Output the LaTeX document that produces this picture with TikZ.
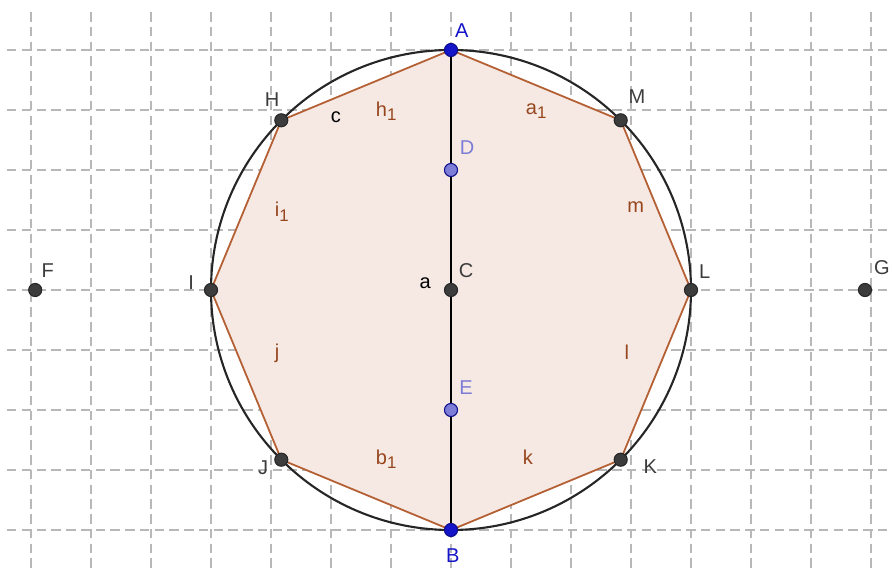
\documentclass[tikz,border=0pt]{standalone}
\usepackage{fontspec}
\setmainfont{Liberation Sans}
\definecolor{octfill}{RGB}{246,233,227}
\definecolor{octedge}{RGB}{180,96,52}
\definecolor{seglabel}{RGB}{150,70,30}
\definecolor{ptblue}{RGB}{20,20,200}
\definecolor{ptlight}{RGB}{125,125,215}
\definecolor{ptdark}{RGB}{60,60,60}
\newcommand{\sub}[1]{\raisebox{-0.45ex}{\fontsize{8}{9}\selectfont #1}}
\begin{document}
\begin{tikzpicture}[
  gridline/.style={black!28, dash pattern=on 4.5pt off 2.5pt, line width=0.5pt},
  octside/.style={draw=octedge, line width=0.85pt},
  dot/.style={circle, inner sep=0pt, minimum size=6.2pt, draw=black!85, fill=ptdark, line width=0.5pt},
  bluedot/.style={dot, draw=ptblue!70!black, fill=ptblue},
  lightdot/.style={dot, draw=ptblue!70!black, fill=ptlight},
  lbl/.style={font=\fontsize{9.5}{11}\selectfont, inner sep=0pt},
  ptlbl/.style={lbl, text=ptdark},
  seglbl/.style={lbl, text=seglabel}
]
\useasboundingbox (-7.5167,-4.6833) rectangle (7.3667,4.8333);
\foreach \x in {-7,...,7}
  \draw[gridline] (\x,4.63) -- (\x,-4.6833);
\foreach \y in {-4,...,4}
  \draw[gridline] (-7.4,\y) -- (7.3667,\y);

\coordinate (C) at (0,0);
\coordinate (A) at (90:4);
\coordinate (M) at (45:4);
\coordinate (L) at (0:4);
\coordinate (K) at (-45:4);
\coordinate (B) at (-90:4);
\coordinate (J) at (-135:4);
\coordinate (I) at (180:4);
\coordinate (H) at (135:4);
\coordinate (D) at (0,2);
\coordinate (E) at (0,-2);
\coordinate (F) at (-6.93,0);
\coordinate (G) at (6.9,0);

\fill[octfill] (A) -- (M) -- (L) -- (K) -- (B) -- (J) -- (I) -- (H) -- cycle;
\draw[octside] (A) -- (M) -- (L) -- (K) -- (B) -- (J) -- (I) -- (H) -- cycle;
\draw[black!85, line width=1pt] (C) circle (4);
\draw[black, line width=0.85pt] (A) -- (B);

\foreach \p in {C,F,G,H,I,J,K,L,M}
  \node[dot] (d\p) at (\p) {};
\node[bluedot] (dA) at (A) {};
\node[bluedot] (dB) at (B) {};
\node[lightdot] (dD) at (D) {};
\node[lightdot] (dE) at (E) {};

\node[lbl, text=ptblue] (lA) at (0.18,4.33) {A};
\node[lbl, text=ptblue] (lB) at (0.03,-4.42) {B};
\node[ptlbl] (lC) at (0.25,0.33) {C};
\node[lbl, text=ptlight] (lD) at (0.27,2.37) {D};
\node[lbl, text=ptlight] (lE) at (0.25,-1.63) {E};
\node[ptlbl] (lF) at (-6.72,0.33) {F};
\node[ptlbl] (lG) at (7.18,0.37) {G};
\node[ptlbl] (lH) at (-2.98,3.17) {H};
\node[ptlbl] (lI) at (-4.33,0.13) {I};
\node[ptlbl] (lJ) at (-3.13,-2.97) {J};
\node[ptlbl] (lK) at (3.32,-2.95) {K};
\node[ptlbl] (lL) at (4.23,0.3) {L};
\node[ptlbl] (lM) at (3.1,3.22) {M};

\node[lbl] (la) at (-0.43,0.12) {a};
\node[lbl] (lc) at (-1.92,2.88) {c};
\node[seglbl] (lh1) at (-1.08,2.98) {h\sub{1}};
\node[seglbl] (la1) at (1.42,2.98) {a\sub{1}};
\node[seglbl] (lm) at (3.08,1.38) {m};
\node[seglbl] (ll) at (2.93,-1.03) {l};
\node[seglbl] (lk) at (1.28,-2.78) {k};
\node[seglbl] (lb1) at (-1.08,-2.82) {b\sub{1}};
\node[seglbl] (lj) at (-2.9,-1.05) {j};
\node[seglbl] (li1) at (-2.82,1.31) {i\sub{1}};
\end{tikzpicture}
\end{document}
